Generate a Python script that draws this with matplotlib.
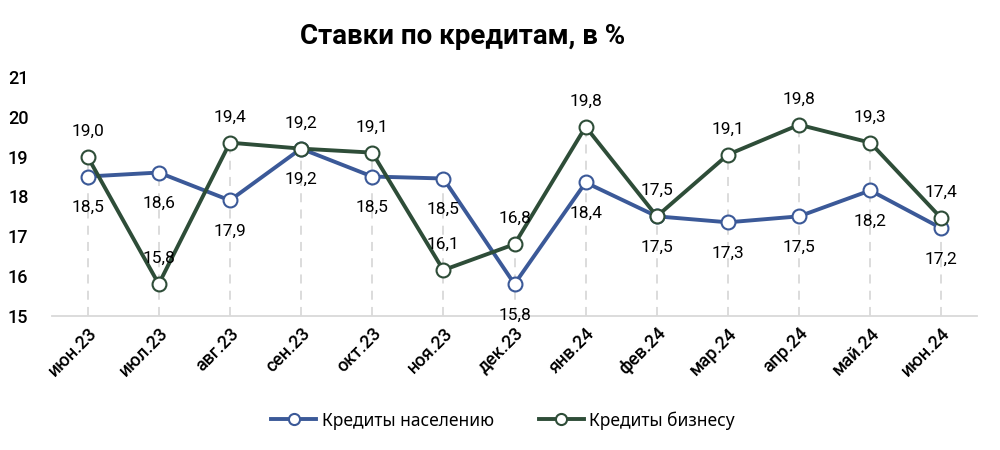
import matplotlib
matplotlib.use("Agg")
import matplotlib.pyplot as plt
from matplotlib.lines import Line2D

categories = ["июн.23", "июл.23", "авг.23", "сен.23", "окт.23", "ноя.23", "дек.23",
              "янв.24", "фев.24", "мар.24", "апр.24", "май.24", "июн.24"]
households = [18.5, 18.6, 17.9, 19.2, 18.5, 18.45, 15.8, 18.35, 17.5, 17.35, 17.5, 18.15, 17.2]
households_labels = ["18,5", "18,6", "17,9", "19,2", "18,5", "18,5", "15,8", "18,4", "17,5", "17,3", "17,5", "18,2", "17,2"]
business = [19.0, 15.8, 19.35, 19.2, 19.1, 16.15, 16.8, 19.75, 17.5, 19.05, 19.8, 19.35, 17.45]
business_labels = ["19,0", "15,8", "19,4", "19,2", "19,1", "16,1", "16,8", "19,8", "17,5", "19,1", "19,8", "19,3", "17,4"]
yticks = [15, 16, 17, 18, 19, 20, 21]

blue = "#3b5998"
green = "#2e4d38"
font = "Roboto"

fig = plt.figure(figsize=(10, 4.5), dpi=100)
ax = fig.add_axes([0.052, 0.298, 0.925, 0.531])
x = list(range(len(categories)))

for xi, h, b in zip(x, households, business):
    ax.plot([xi, xi], [15, max(h, b)], color="#d9d9d9", lw=1.3, ls=(0, (5, 4)), zorder=1)

ax.plot(x, households, color=blue, lw=2.8, marker="o", ms=10, mfc="white",
        mec=blue, mew=1.5, zorder=3, label="Кредиты населению")
ax.plot(x, business, color=green, lw=2.8, marker="o", ms=10, mfc="white",
        mec=green, mew=1.5, zorder=4, label="Кредиты бизнесу")

for xi, v, t in zip(x, households, households_labels):
    ax.annotate(t, (xi, v), xytext=(0, -17), textcoords="offset points",
                ha="center", va="top", fontsize=12.5, family=font, color="black", zorder=5)
for xi, v, t in zip(x, business, business_labels):
    ax.annotate(t, (xi, v), xytext=(0, 13), textcoords="offset points",
                ha="center", va="bottom", fontsize=12.5, family=font, color="black", zorder=5)

ax.set_xlim(-0.5, len(categories) - 0.5)
ax.set_ylim(15, 21)
ax.set_yticks(yticks)
ax.set_yticklabels([str(v) for v in yticks], fontsize=13, family=font, fontweight="medium")
ax.set_xticks(x)
ax.set_xticklabels(categories, rotation=45, ha="right", rotation_mode="anchor",
                   fontsize=13, family=font, fontweight="medium")
ax.tick_params(axis="y", length=0, pad=17)
ax.tick_params(axis="x", length=0, pad=6)
for s in ["top", "right", "left"]:
    ax.spines[s].set_visible(False)
ax.spines["bottom"].set_color("#d9d9d9")
ax.spines["bottom"].set_linewidth(1.3)

fig.text(0.4625, 0.918, "Ставки по кредитам, в %", ha="center", va="center",
         fontsize=20, fontweight="bold", family=font)

handles = [Line2D([], [], color=blue, lw=2.8, marker="o", ms=8, mfc="white", mec=blue, mew=1.5),
           Line2D([], [], color=green, lw=2.8, marker="o", ms=8, mfc="white", mec=green, mew=1.5)]
fig.legend(handles, ["Кредиты населению", "Кредиты бизнесу"], loc="center",
           bbox_to_anchor=(0.503, 0.066), ncol=2, frameon=False,
           prop={"family": "Noto Sans", "size": 12.5}, handlelength=2.6,
           columnspacing=2.6, handletextpad=0.3)

fig.savefig("out.png", dpi=100)
